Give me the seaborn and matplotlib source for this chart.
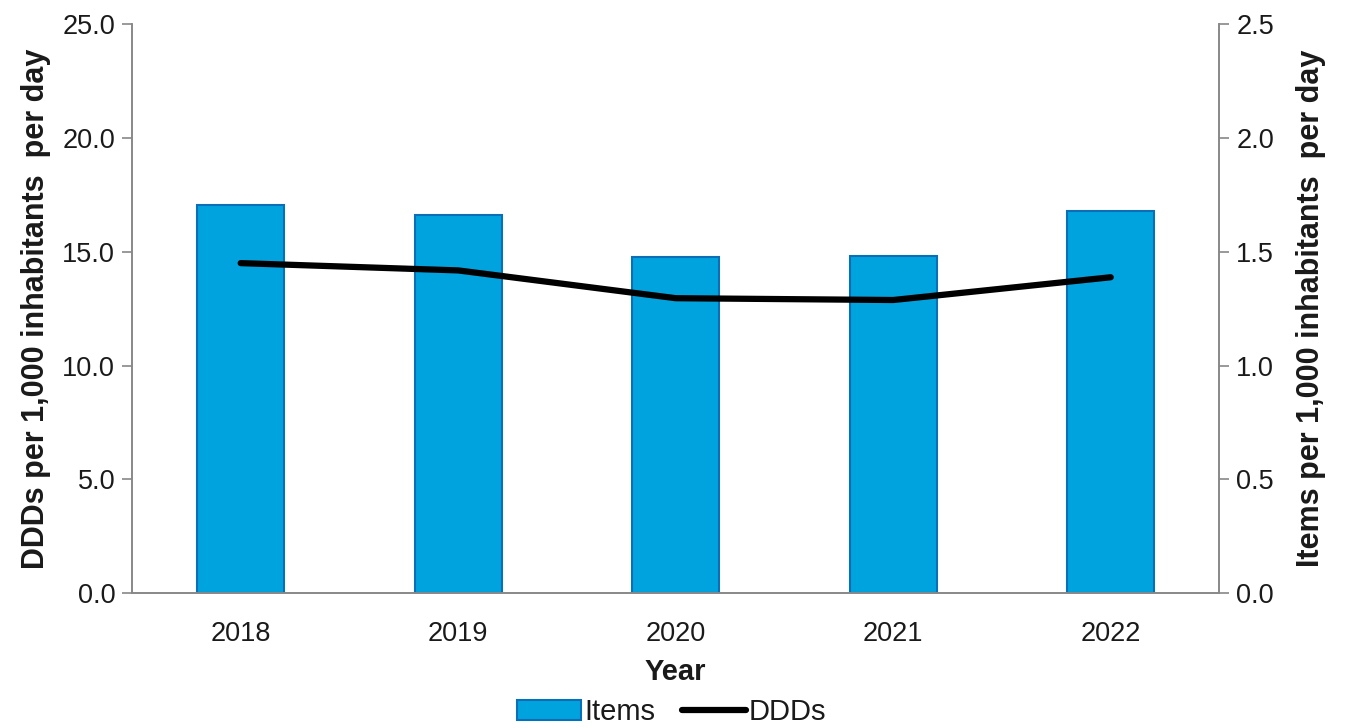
import numpy as np
import pandas as pd
import matplotlib
matplotlib.use("Agg")
import matplotlib.pyplot as plt
import seaborn as sns
from matplotlib.patches import Patch
from matplotlib.lines import Line2D

years = ["2018", "2019", "2020", "2021", "2022"]
items = [1.705, 1.66, 1.478, 1.482, 1.680]
ddds = [14.50, 14.18, 12.96, 12.88, 13.88]

sns.set_theme(style="white")
plt.rcParams['font.family'] = ['Liberation Sans', 'DejaVu Sans']

fig = plt.figure(figsize=(13.46, 7.28), dpi=100)
ax = fig.add_axes([0.098, 0.185, 0.808, 0.782])
ax2 = ax.twinx()

df = pd.DataFrame({"Year": years, "Items": items, "DDDs": ddds})
sns.barplot(data=df, x="Year", y="Items", ax=ax2, color="#00A3DE",
            width=0.4, saturation=1, edgecolor="#0B6FB8", linewidth=1.5)
pos = np.arange(len(years))
sns.lineplot(x=pos, y=ddds, ax=ax, color="black", linewidth=4.5,
             solid_capstyle="round")

ax.set_zorder(ax2.get_zorder() + 1)
ax.patch.set_visible(False)

ax.set_xlim(-0.5, len(years) - 0.5)
ax2.set_xlim(-0.5, len(years) - 0.5)
ax.set_ylim(0, 25)
ax2.set_ylim(0, 2.5)
ax.set_yticks(np.arange(0, 25.1, 5))
ax.set_yticklabels([f"{v:.1f}" for v in np.arange(0, 25.1, 5)])
ax2.set_yticks(np.arange(0, 2.51, 0.5))
ax2.set_yticklabels([f"{v:.1f}" for v in np.arange(0, 2.51, 0.5)])

tc = "#1a1a1a"
for a in (ax, ax2):
    a.set_xticks(np.arange(-0.5, len(years), 1))
    a.set_xticklabels([])
    a.set_xticks(pos, minor=True)
    a.set_xticklabels(years, minor=True)
    a.tick_params(axis="x", which="major", length=7, width=1.2, color="#888888", direction="out")
    a.tick_params(axis="x", which="minor", length=0, labelsize=19.5, pad=20, labelcolor=tc)
    for s in a.spines.values():
        s.set_color("#888888")
        s.set_linewidth(1.2)
    a.spines["top"].set_visible(False)
    a.grid(False)

ax2.set_xlabel("")
ax.tick_params(axis="y", length=7, width=1.2, color="#888888", direction="out", labelsize=19.5, labelcolor=tc, left=True, pad=5)
ax2.tick_params(axis="y", length=7, width=1.2, color="#888888", direction="out", labelsize=19.5, labelcolor=tc, right=True, pad=5)

ax.set_xlabel("Year", fontsize=21, fontweight="bold", labelpad=8, color=tc)
ax.set_ylabel("DDDs per 1,000 inhabitants  per day", fontsize=22, fontweight="bold", labelpad=8, color=tc)
ax2.set_ylabel("Items per 1,000 inhabitants  per day", fontsize=22, fontweight="bold", labelpad=16, color=tc)

handles = [Patch(facecolor="#00A3DE", edgecolor="#0B6FB8", linewidth=1.5),
           Line2D([0], [0], color="black", linewidth=4.5)]
fig.legend(handles, ["Items", "DDDs"], loc="center", bbox_to_anchor=(0.499, 0.022),
           ncol=2, frameon=False, fontsize=21, handlelength=2.2, handletextpad=0.1,
           columnspacing=0.9, labelcolor=tc)

fig.savefig("out.png", dpi=100)
